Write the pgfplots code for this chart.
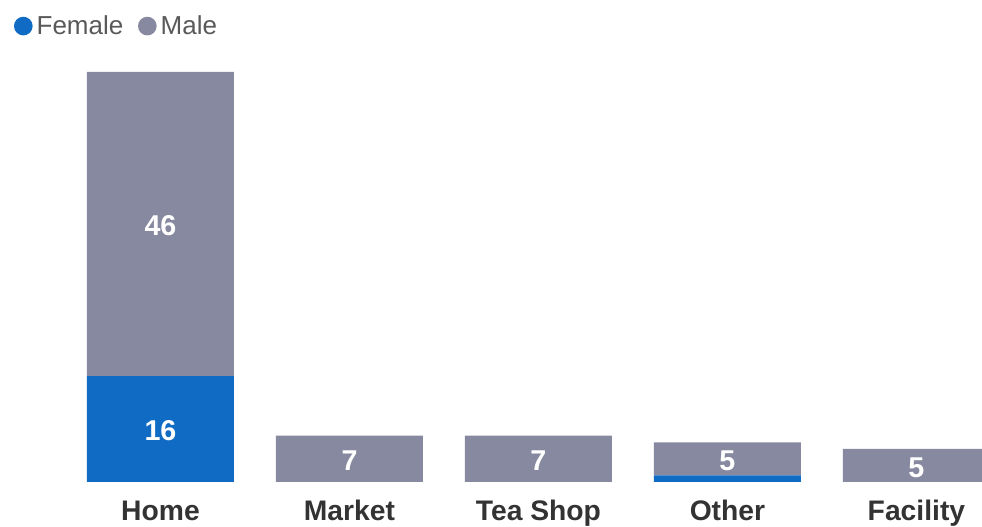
\documentclass[border=0pt]{standalone}
\usepackage{fontspec}
\setmainfont{Liberation Sans}
\usepackage{pgfplots}
\pgfplotsset{compat=1.18}
\usepackage{pgfplotstable}
\definecolor{female}{HTML}{0F6BC4}
\definecolor{male}{HTML}{8689A0}
\definecolor{lbl}{HTML}{333333}
\definecolor{leg}{HTML}{595959}

\pgfplotstableread{
x female male
0 16 46
1 0 7
2 0 7
3 1 5
4 0 5
}\datatable

\pgfplotstableread{
x y label
0 8 16
0 39 46
1 3.5 7
2 3.5 7
3 3.5 5
4 2.5 5
}\labeltable

\pgfplotsset{
  common/.style={
    scale only axis,
    width=687pt, height=307.5pt,
    at={(49.5pt,33.75pt)}, anchor=south west,
    xmin=-0.5, xmax=4.347,
    ymin=0, ymax=62,
    axis line style={draw=none},
    ytick=\empty,
    major tick length=0pt,
  }
}

\begin{document}
\begin{tikzpicture}
\useasboundingbox (0,0) rectangle (736.5pt,395.25pt);
\begin{axis}[
  common,
  ybar stacked,
  bar width=110.25pt,
  xtick={0,1,2,3,4},
  xticklabels={Home,Market,Tea Shop,Other,Facility},
  xticklabel style={font=\fontsize{21.2}{25}\selectfont\bfseries, text=lbl, anchor=base, yshift=-29.25pt},
  legend columns=2,
  legend style={
    at={(axis description cs:-0.0568,1.112)}, anchor=west,
    draw=none, fill=none, inner sep=0pt, outer sep=0pt,
    font=\fontsize{19.5}{23}\selectfont, text=leg,
    cells={anchor=west},
    /tikz/every odd column/.append style={column sep=1pt},
    /tikz/every even column/.append style={column sep=9pt},
  },
  legend image code/.code={\fill[#1] (7pt,0pt) circle (7pt);},
]
\addplot[fill=female, draw=none] table[x=x, y=female] {\datatable};
\addlegendentry{Female}
\addplot[fill=male, draw=none] table[x=x, y=male] {\datatable};
\addlegendentry{Male}
\end{axis}
\begin{axis}[
  common,
  xtick=\empty,
]
\addplot[draw=none, mark=none,
  nodes near coords, point meta=explicit symbolic,
  every node near coord/.append style={anchor=center, yshift=-1.5pt, text=white, font=\fontsize{21.5}{25}\selectfont\bfseries},
] table[x=x, y=y, meta=label] {\labeltable};
\end{axis}
\end{tikzpicture}
\end{document}
